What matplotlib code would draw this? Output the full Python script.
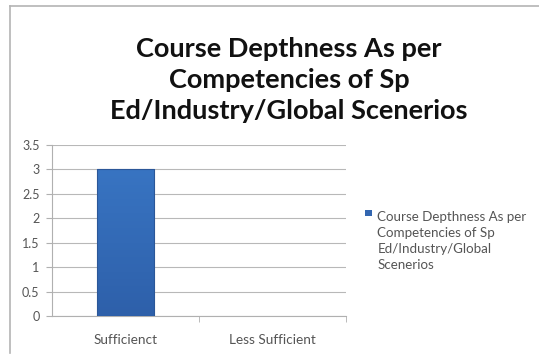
import matplotlib
matplotlib.use("Agg")
import numpy as np
import matplotlib.pyplot as plt
from matplotlib.lines import Line2D
from matplotlib.patches import Rectangle
from matplotlib.colors import LinearSegmentedColormap

categories = ["Sufficienct", "Less Sufficient"]
values = [3, 0]
series_name = "Course Depthness As per\nCompetencies of Sp\nEd/Industry/Global\nScenerios"
title = "Course Depthness As per\nCompetencies of Sp\nEd/Industry/Global Scenerios"
yticks = [0, 0.5, 1, 1.5, 2, 2.5, 3, 3.5]

plt.rcParams['font.family'] = ['Lato', 'DejaVu Sans']

fig = plt.figure(figsize=(5.39, 3.55), dpi=100)
ax = fig.add_axes([0.0965, 0.110, 0.545, 0.4815])

bar_color = "#3366b0"
bars = ax.bar(range(len(categories)), values, width=0.39, color=bar_color,
              linewidth=0, zorder=3)

# vertical shading inside each bar
shade = LinearSegmentedColormap.from_list("shade", ["#2e60aa", "#3874c2"])
grad = np.linspace(0, 1, 100).reshape(-1, 1)
for b in bars:
    if b.get_height() <= 0:
        continue
    x0, w, h = b.get_x(), b.get_width(), b.get_height()
    im = ax.imshow(grad, cmap=shade, origin="lower", aspect="auto",
                   extent=[x0, x0 + w, 0, h], zorder=3.5)
    im.set_clip_path(b)
    ax.add_patch(Rectangle((x0, 0), w, h, fill=False, edgecolor="#2b5798",
                           linewidth=0.8, zorder=4))

ax.set_xlim(-0.5, len(categories) - 0.5)
ax.set_ylim(0, 3.5)
ax.set_yticks(yticks)
ax.set_yticklabels([f"{t:g}" for t in yticks])
ax.set_xticks(range(len(categories)))
ax.set_xticklabels(categories)
ax.set_xticks([0.5, 1.5], minor=True)

ax.grid(axis="y", color="#b8b8b8", linewidth=0.8, zorder=0)
for side in ["top", "right"]:
    ax.spines[side].set_visible(False)
ax.spines["left"].set_color("#b0b0b0")
ax.spines["bottom"].set_color("#b0b0b0")
ax.tick_params(axis="y", length=4, color="#b0b0b0", labelsize=9, labelcolor="#555555", pad=5)
ax.tick_params(axis="x", which="major", length=0, labelsize=9.8, labelcolor="#555555", pad=13)
ax.tick_params(axis="x", which="minor", length=4, color="#b0b0b0")

fig.text(0.536, 0.775, title, ha="center", va="center", fontsize=19.5, fontweight="bold",
         color="#111111", linespacing=1.36)

# legend entry: square key beside the first line of the series name
fig.patches.append(Rectangle((0.678, 0.391), 0.012, 0.018, transform=fig.transFigure,
                             facecolor=bar_color, edgecolor="none"))
fig.text(0.700, 0.407, series_name, ha="left", va="top", fontsize=9.6,
         color="#555555", linespacing=1.42, transform=fig.transFigure)

# chart frame edges
fig.add_artist(Line2D([0.019, 0.019], [0.005, 0.983], color="#b4b4b4", linewidth=1.2))
fig.add_artist(Line2D([0.019, 1.0], [0.983, 0.983], color="#b4b4b4", linewidth=1.2))

fig.savefig("out.png", dpi=100)
